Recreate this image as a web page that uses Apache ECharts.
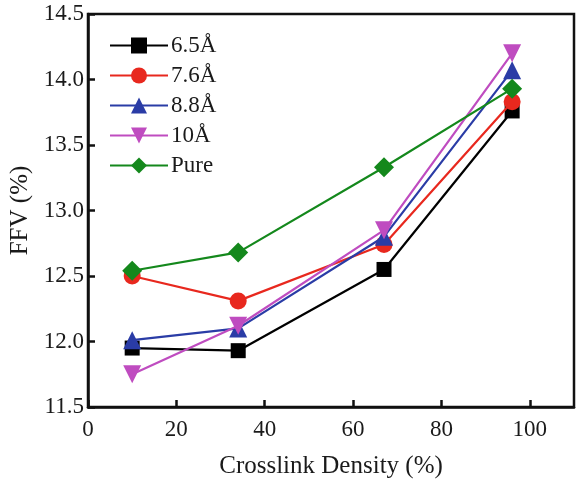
<!DOCTYPE html>
<html>
<head>
<meta charset="utf-8">
<script src="https://cdn.jsdelivr.net/npm/echarts@6/dist/echarts.min.js"></script>
<style>
  html, body { margin: 0; padding: 0; background: #fff; }
  #chart { width: 576px; height: 485px; }
</style>
</head>
<body>
<div id="chart"></div>
<script>
const density = [10, 34, 67, 96]
const ffv65 = [11.95, 11.93, 12.55, 13.76]
const ffv76 = [12.5, 12.31, 12.74, 13.83]
const ffv88 = [12.01, 12.1, 12.8, 14.07]
const ffv10 = [11.75, 12.12, 12.85, 14.2]
const ffvPure = [12.54, 12.68, 13.33, 13.93]

const names = ['6.5Å', '7.6Å', '8.8Å', '10Å', 'Pure']
const colors = ['#000000', '#e8281e', '#2a3ca6', '#bf4cc0', '#14881c']
const symbols = ['rect', 'circle', 'triangle', 'triangle', 'diamond']
const rotations = [0, 0, 0, 180, 0]
const sizes = [15, 17, 18, 18, 20]
const values = [ffv65, ffv76, ffv88, ffv10, ffvPure]

const font = 'Liberation Serif, Times New Roman, serif'
const chart = echarts.init(document.getElementById('chart'))

const series = names.map((name, i) => {
  return {
    name: name,
    type: 'line',
    symbol: symbols[i],
    symbolRotate: rotations[i],
    symbolSize: sizes[i],
    showSymbol: true,
    lineStyle: { width: 2.2, color: colors[i] },
    itemStyle: { color: colors[i] },
    data: density.map((x, j) => [x, values[i][j]]),
    z: 2 + i
  }
})

chart.setOption({
  animation: false,
  color: colors,
  grid: {
    left: 88,
    right: 2,
    top: 14,
    bottom: 78,
    outerBoundsMode: 'none',
    containLabel: false,
    show: true,
    borderColor: '#111',
    borderWidth: 2.5
  },
  legend: {
    orient: 'vertical',
    left: 104,
    top: 29,
    itemWidth: 58,
    itemHeight: 20,
    itemGap: 7,
    textStyle: { fontFamily: font, fontSize: 23, color: '#1a1a1a', padding: [0, 0, 0, -2] },
    data: names
  },
  xAxis: {
    type: 'value',
    min: 0,
    max: 110,
    interval: 20,
    name: 'Crosslink Density (%)',
    nameLocation: 'middle',
    nameGap: 47,
    nameMoveOverlap: false,
    nameTextStyle: { fontFamily: font, fontSize: 25, color: '#1a1a1a' },
    axisLine: { show: true, lineStyle: { color: '#111', width: 2.5 } },
    axisTick: { show: true, inside: true, length: 7, lineStyle: { color: '#111', width: 2.5 } },
    axisLabel: {
      fontFamily: font,
      fontSize: 23,
      color: '#1a1a1a',
      margin: 11,
      showMaxLabel: false
    },
    splitLine: { show: false }
  },
  yAxis: {
    type: 'value',
    min: 11.5,
    max: 14.5,
    interval: 0.5,
    name: 'FFV (%)',
    nameLocation: 'middle',
    nameGap: 55,
    nameMoveOverlap: false,
    nameTextStyle: { fontFamily: font, fontSize: 25, color: '#1a1a1a' },
    axisLine: { show: true, lineStyle: { color: '#111', width: 2.5 } },
    axisTick: { show: true, inside: true, length: 7, lineStyle: { color: '#111', width: 2.5 } },
    axisLabel: {
      fontFamily: font,
      fontSize: 23,
      color: '#1a1a1a',
      margin: 4,
      formatter: (v) => v.toFixed(1)
    },
    splitLine: { show: false }
  },
  series: series
})
</script>
</body>
</html>
